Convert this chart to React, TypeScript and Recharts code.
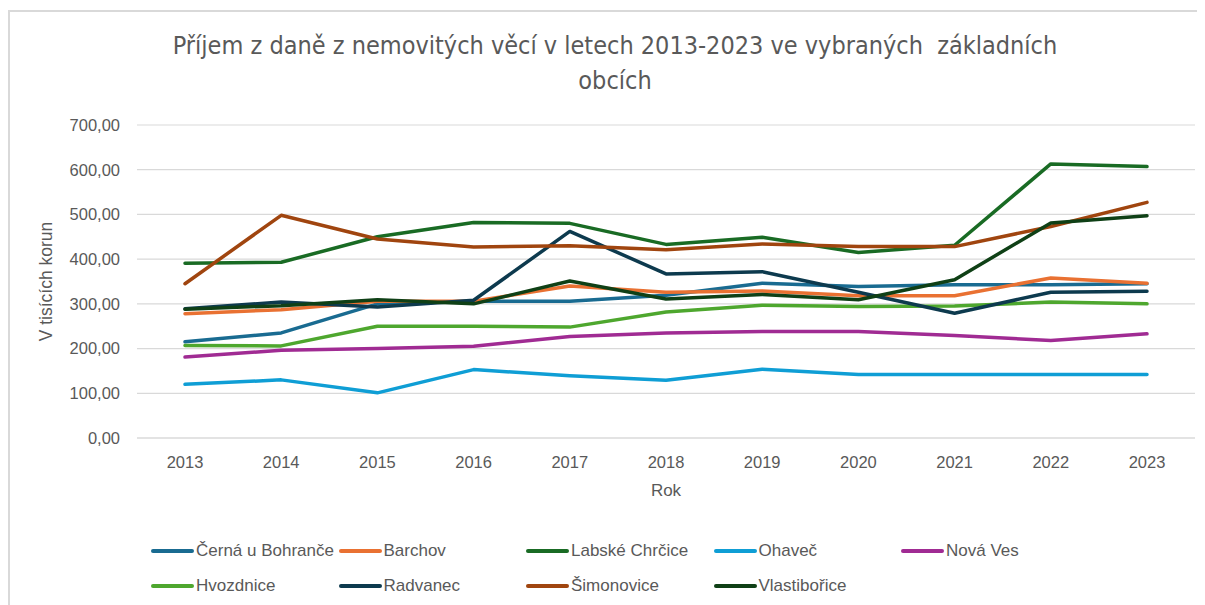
import { LineChart, Line, XAxis, YAxis, CartesianGrid, Legend } from 'recharts';

const years = ['2013', '2014', '2015', '2016', '2017', '2018', '2019', '2020', '2021', '2022', '2023'];

const cerna = [215, 235, 300, 306, 306, 319, 346, 339, 343, 343, 345];
const barchov = [278, 287, 306, 306, 340, 326, 329, 318, 318, 358, 346];
const labske = [391, 393, 450, 482, 480, 433, 449, 415, 431, 613, 607];
const ohavec = [120, 130, 101, 153, 139, 129, 154, 142, 142, 142, 142];
const novaVes = [181, 196, 200, 205, 227, 235, 238, 238, 229, 218, 233];
const hvozdnice = [207, 206, 250, 250, 248, 282, 297, 294, 295, 304, 300];
const radvanec = [289, 304, 293, 308, 462, 367, 372, 326, 279, 326, 328];
const simonovice = [345, 498, 445, 427, 430, 421, 434, 428, 428, 473, 527];
const vlastiborice = [288, 296, 309, 300, 351, 311, 321, 309, 354, 481, 497];

const yTicks = [0, 100, 200, 300, 400, 500, 600, 700];

const series = [
  { key: 'Černá u Bohranče', values: cerna, color: '#196B91' },
  { key: 'Barchov', values: barchov, color: '#E97132' },
  { key: 'Labské Chrčice', values: labske, color: '#196B24' },
  { key: 'Ohaveč', values: ohavec, color: '#0F9ED5' },
  { key: 'Nová Ves', values: novaVes, color: '#A02B93' },
  { key: 'Hvozdnice', values: hvozdnice, color: '#4EA72E' },
  { key: 'Radvanec', values: radvanec, color: '#0D3A4E' },
  { key: 'Šimonovice', values: simonovice, color: '#A0450F' },
  { key: 'Vlastibořice', values: vlastiborice, color: '#0F4016' },
];

const data = years.map((year, i) => {
  const row: Record<string, string | number> = { year };
  series.forEach((s) => {
    row[s.key] = s.values[i];
  });
  return row;
});

const fmt = (v: number) => v.toFixed(2).replace('.', ',');

if (typeof document !== 'undefined') {
  document.documentElement.style.overflow = 'hidden';
  document.body.style.overflow = 'hidden';
}

const renderLegend = () => (
  <div style={{ position: 'relative', width: 1197, height: 80 }}>
    {series.map((s, i) => {
      const col = i < 5 ? i : i - 5;
      const row = i < 5 ? 0 : 1;
      return (
        <div
          key={s.key}
          style={{
            position: 'absolute',
            left: 141 + col * 187.5,
            top: row * 35,
            display: 'flex',
            alignItems: 'center',
            height: 22,
            whiteSpace: 'nowrap',
          }}
        >
          <span
            style={{
              display: 'inline-block',
              width: 43,
              height: 4,
              borderRadius: 2,
              background: s.color,
              marginRight: 2,
            }}
          />
          <span style={{ fontFamily: 'Liberation Sans, Arial, sans-serif', fontSize: 17, color: '#595959' }}>
            {s.key}
          </span>
        </div>
      );
    })}
  </div>
);

const App = () => {
  return (
    <div
      style={{
        position: 'relative',
        marginTop: 2,
        width: 1205,
        height: 595,
        borderTop: '2px solid #d9d9d9',
        borderLeft: '2px solid #d9d9d9',
        boxSizing: 'border-box',
        background: '#fff',
        overflow: 'hidden',
        fontFamily: 'Liberation Sans, Arial, sans-serif',
      }}
    >
      <div
        style={{
          position: 'absolute',
          left: 0,
          width: 1210,
          top: 16,
          textAlign: 'center',
          fontFamily: '"Liberation Sans Narrow", "Arial Narrow", "DejaVu Sans Condensed", sans-serif',
          fontSize: 25,
          lineHeight: '35px',
          color: '#595959',
        }}
      >
        Příjem z daně z nemovitých věcí v letech 2013-2023 ve vybraných&nbsp; základních
        <br />
        obcích
      </div>
      <LineChart
        width={1195}
        height={596}
        data={data}
        margin={{ top: 113, right: 10, bottom: 30, left: 0 }}
      >
        <CartesianGrid vertical={false} stroke="#d9d9d9" strokeWidth={1.2} />
        <XAxis
          dataKey="year"
          padding={{ left: 48, right: 48 }}
          tickLine={false}
          axisLine={{ stroke: '#d9d9d9', strokeWidth: 1.2 }}
          tick={{ fill: '#595959', fontSize: 16.5 }}
          tickMargin={12}
          height={60}
          label={{ value: 'Rok', position: 'insideBottom', offset: 2, fill: '#595959', fontSize: 17 }}
        />
        <YAxis
          domain={[0, 700]}
          ticks={yTicks}
          tickFormatter={fmt}
          tickLine={false}
          axisLine={false}
          tick={{ fill: '#595959', fontSize: 16.5 }}
          tickMargin={11}
          width={127}
          label={{
            value: 'V tisících korun',
            angle: -90,
            position: 'insideLeft',
            offset: 36,
            style: { textAnchor: 'middle' },
            fill: '#595959',
            fontSize: 17.5,
          }}
        />
        {series.map((s) => (
          <Line
            key={s.key}
            type="linear"
            dataKey={s.key}
            stroke={s.color}
            strokeWidth={3.5}
            strokeLinecap="round"
            strokeLinejoin="round"
            dot={false}
            activeDot={false}
            isAnimationActive={false}
          />
        ))}
        <Legend content={renderLegend} wrapperStyle={{ left: 0, top: 528, width: 1197 }} />
      </LineChart>
    </div>
  );
};

export default App;
